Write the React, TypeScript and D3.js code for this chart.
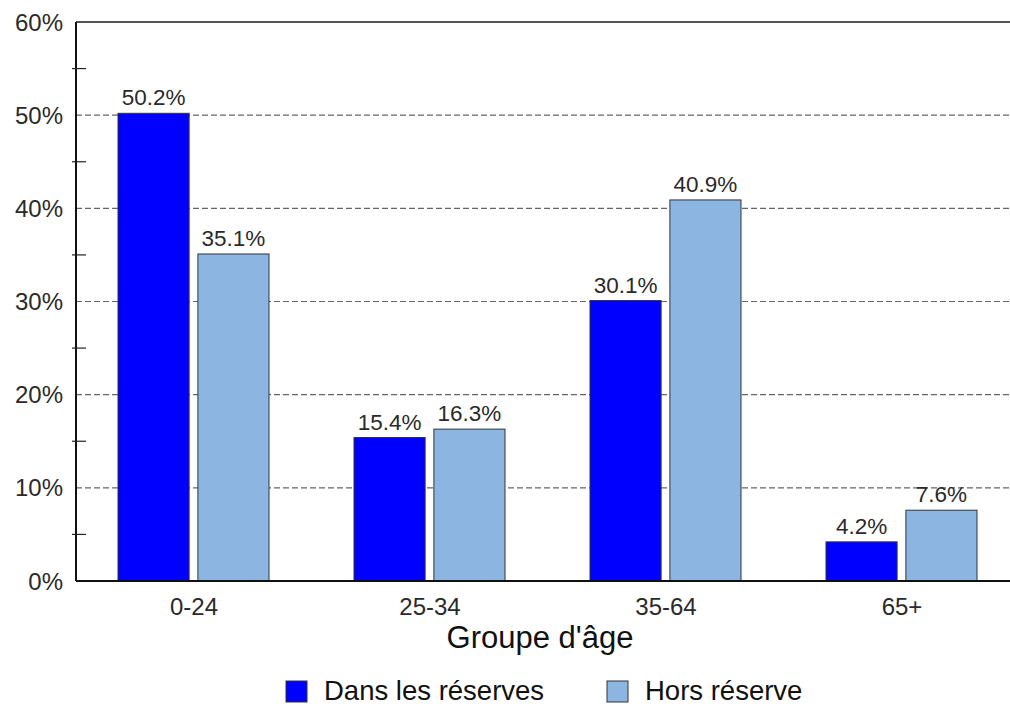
import React from "react";
import * as d3 from "d3";

const categories = ["0-24", "25-34", "35-64", "65+"];
const seriesNames = ["Dans les réserves", "Hors réserve"];
const dansValues = [50.2, 15.4, 30.1, 4.2];
const horsValues = [35.1, 16.3, 40.9, 7.6];
const yTicks = [0, 10, 20, 30, 40, 50, 60];
const yMinorTicks = [5, 15, 25, 35, 45, 55];
const colors = ["#0000ff", "#8db5e2"];
const xTitle = "Groupe d'âge";

const W = 1010;
const H = 706;
const FONT = "'Liberation Sans', Arial, Helvetica, sans-serif";

export default function App() {
  const left = 76;
  const right = 1020;
  const top = 22;
  const bottom = 581;

  const x0 = d3.scaleBand<string>().domain(categories).range([left, right]).padding(0);
  const x1 = d3.scaleBand<string>().domain(seriesNames).range([42, 193]).paddingInner(0.11).paddingOuter(0);
  const y = d3.scaleLinear().domain([0, 60]).range([bottom, top]);

  const seriesValues = [dansValues, horsValues];
  const legendX = [286, 607];

  return (
    <svg
      width={W}
      height={H}
      style={{ position: "fixed", left: 0, top: 0, background: "#fff", fontFamily: FONT }}
    >
      <rect x={0} y={0} width={W} height={H} fill="#fff" />
      {yTicks.filter((t) => t > 0 && t < 60).map((t) => (
        <line key={"g" + t} x1={left} x2={W} y1={y(t)} y2={y(t)} stroke="#666" strokeWidth={1.2} strokeDasharray="6,3" />
      ))}
      <line x1={left} x2={W} y1={y(60)} y2={y(60)} stroke="#555" strokeWidth={2} />
      {categories.map((c, i) => (
        <g key={c} transform={`translate(${x0(c)},0)`}>
          {seriesNames.map((s, j) => {
            const v = seriesValues[j][i];
            const bx = x1(s)!;
            const bw = x1.bandwidth();
            return (
              <g key={s}>
                <rect x={bx} y={y(v)} width={bw} height={y(0) - y(v)} fill={colors[j]} stroke="#333" strokeWidth={1} />
                <text x={bx + bw / 2} y={y(v) - 8} textAnchor="middle" fontSize={22.5} fill="#2a2a2a">
                  {v.toFixed(1)}%
                </text>
              </g>
            );
          })}
        </g>
      ))}
      <line x1={left} x2={left} y1={top} y2={bottom} stroke="#111" strokeWidth={2} />
      <line x1={left} x2={W} y1={bottom} y2={bottom} stroke="#111" strokeWidth={2} />
      {yMinorTicks.map((t) => (
        <line key={"m" + t} x1={72} x2={86} y1={y(t)} y2={y(t)} stroke="#222" strokeWidth={1.2} />
      ))}
      {yTicks.map((t) => (
        <text key={"yl" + t} x={63} y={y(t)} dy="0.36em" textAnchor="end" fontSize={24} fill="#2a2a2a">
          {t}%
        </text>
      ))}
      {categories.map((c) => (
        <text key={"xl" + c} x={x0(c)! + x0.bandwidth() / 2} y={615} textAnchor="middle" fontSize={24} fill="#2a2a2a">
          {c}
        </text>
      ))}
      <text x={540} y={648} textAnchor="middle" fontSize={31} fill="#111">
        {xTitle}
      </text>
      {seriesNames.map((s, j) => {
        const lx = legendX[j];
        return (
          <g key={"lg" + s}>
            <rect x={lx} y={681} width={21} height={21} fill={colors[j]} stroke="#333" strokeWidth={1} />
            <text x={lx + 38} y={700} fontSize={27.5} fill="#111">
              {s}
            </text>
          </g>
        );
      })}
    </svg>
  );
}
